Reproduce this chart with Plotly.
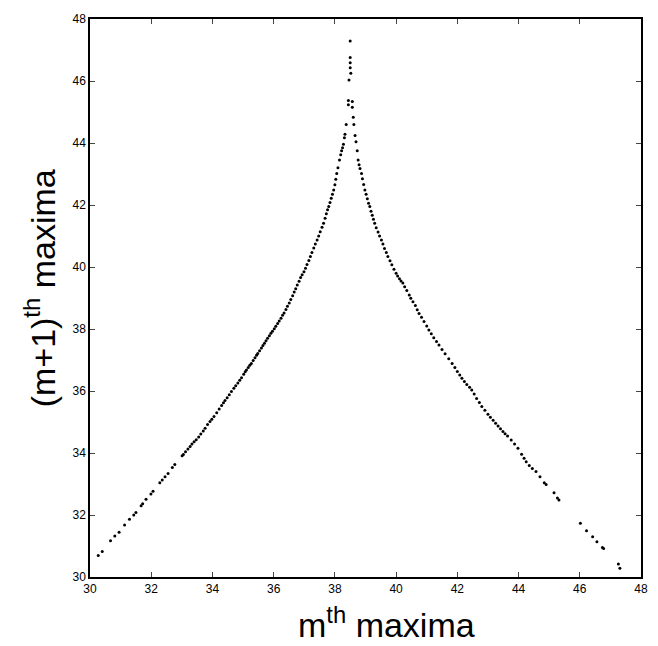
import plotly.graph_objects as go

# Left (rising) branch: (m-th maximum, (m+1)-th maximum)
left_x = [30.27, 30.40, 30.67, 30.81, 30.95, 31.13, 31.29, 31.43, 31.50, 31.67, 31.72, 31.83, 31.99, 32.06,
          32.28, 32.36, 32.45, 32.55, 32.69, 32.77, 33.01, 33.05, 33.12, 33.20, 33.27, 33.33, 33.40, 33.47,
          33.55, 33.62, 33.70, 33.76, 33.84, 33.92, 33.98, 34.05, 34.14, 34.22, 34.30, 34.36, 34.41, 34.48,
          34.55, 34.62, 34.70, 34.76, 34.83, 34.89, 34.95, 35.02, 35.07, 35.11, 35.17, 35.22, 35.27, 35.33,
          35.39, 35.44, 35.48, 35.54, 35.60, 35.65, 35.70, 35.75, 35.80, 35.86, 35.91, 35.96, 36.02, 36.07,
          36.13, 36.18, 36.24, 36.29, 36.34, 36.40, 36.45, 36.51, 36.56, 36.62, 36.67, 36.72, 36.77, 36.83,
          36.88, 36.93, 36.99, 37.04, 37.09, 37.15, 37.20, 37.25, 37.31, 37.36, 37.42, 37.47, 37.52, 37.58,
          37.63, 37.68, 37.72, 37.76, 37.80, 37.84, 37.88, 37.92, 37.96, 38.00, 38.03, 38.06, 38.10, 38.15,
          38.19, 38.22, 38.25, 38.28, 38.31, 38.33, 38.37]
left_y = [30.69, 30.82, 31.17, 31.32, 31.44, 31.68, 31.86, 32.00, 32.08, 32.30, 32.36, 32.51, 32.68, 32.77,
          33.04, 33.13, 33.23, 33.34, 33.53, 33.63, 33.91, 33.95, 34.04, 34.13, 34.21, 34.29, 34.36, 34.43,
          34.52, 34.61, 34.71, 34.80, 34.92, 35.02, 35.09, 35.18, 35.30, 35.42, 35.53, 35.62, 35.69, 35.78,
          35.88, 35.98, 36.09, 36.17, 36.26, 36.35, 36.43, 36.54, 36.62, 36.68, 36.76, 36.83, 36.89, 36.98,
          37.07, 37.15, 37.21, 37.30, 37.39, 37.47, 37.54, 37.62, 37.70, 37.78, 37.86, 37.93, 38.01, 38.09,
          38.18, 38.26, 38.35, 38.44, 38.52, 38.63, 38.73, 38.84, 38.95, 39.07, 39.19, 39.30, 39.42, 39.54,
          39.66, 39.75, 39.85, 39.96, 40.08, 40.21, 40.34, 40.47, 40.61, 40.74, 40.87, 41.00, 41.14, 41.28,
          41.41, 41.57, 41.72, 41.85, 41.95, 42.08, 42.22, 42.35, 42.48, 42.65, 42.83, 43.02, 43.20, 43.45,
          43.62, 43.75, 43.85, 43.96, 44.17, 44.28, 44.60]

# Points near the cusp
peak_x = [38.50, 38.50, 38.50, 38.50, 38.52, 38.46, 38.44, 38.57, 38.44, 38.57, 38.60, 38.62, 38.66]
peak_y = [47.29, 46.76, 46.59, 46.43, 46.25, 46.03, 45.37, 45.34, 45.23, 45.15, 44.83, 44.60, 44.24]

# Right (falling) branch
right_x = [38.69, 38.73, 38.76, 38.79, 38.82, 38.87, 38.90, 38.94, 38.98, 39.02, 39.06, 39.10, 39.14, 39.18,
           39.22, 39.26, 39.30, 39.35, 39.41, 39.46, 39.52, 39.57, 39.62, 39.68, 39.73, 39.80, 39.86, 39.93,
           40.00, 40.05, 40.11, 40.16, 40.22, 40.28, 40.35, 40.43, 40.48, 40.55, 40.63, 40.69, 40.75, 40.83,
           40.91, 41.00, 41.07, 41.15, 41.23, 41.32, 41.40, 41.50, 41.60, 41.72, 41.83, 41.92, 42.00, 42.08,
           42.15, 42.23, 42.31, 42.40, 42.47, 42.55, 42.63, 42.72, 42.80, 42.90, 43.00, 43.08, 43.17, 43.25,
           43.33, 43.41, 43.49, 43.56, 43.64, 43.76, 43.87, 43.98, 44.10, 44.18, 44.25, 44.35, 44.45, 44.57,
           44.70, 44.84, 44.90, 45.16, 45.27, 45.32, 46.02, 46.22, 46.42, 46.56, 46.74, 46.78, 47.26, 47.31]
right_y = [44.04, 43.75, 43.45, 43.30, 43.18, 43.02, 42.85, 42.66, 42.48, 42.35, 42.20, 42.06, 41.95, 41.80,
           41.67, 41.54, 41.41, 41.27, 41.13, 41.00, 40.87, 40.74, 40.60, 40.47, 40.34, 40.20, 40.07, 39.93,
           39.80, 39.71, 39.62, 39.55, 39.48, 39.36, 39.24, 39.10, 38.99, 38.88, 38.76, 38.62, 38.50, 38.38,
           38.24, 38.10, 37.97, 37.85, 37.72, 37.60, 37.48, 37.34, 37.20, 37.04, 36.89, 36.76, 36.63, 36.52,
           36.41, 36.31, 36.21, 36.12, 36.03, 35.90, 35.76, 35.63, 35.50, 35.38, 35.25, 35.15, 35.06, 34.96,
           34.87, 34.78, 34.69, 34.62, 34.55, 34.42, 34.29, 34.15, 33.96, 33.83, 33.72, 33.60, 33.50, 33.40,
           33.23, 33.04, 32.98, 32.72, 32.55, 32.48, 31.73, 31.49, 31.30, 31.14, 30.95, 30.92, 30.42, 30.28]

tick_vals = [30, 32, 34, 36, 38, 40, 42, 44, 46, 48]
tick_text = [str(v) for v in tick_vals]

xs = left_x + peak_x + right_x
ys = left_y + peak_y + right_y

fig = go.Figure()
fig.add_trace(go.Scatter(x=xs, y=ys, mode="markers",
                         marker=dict(size=3, color="black", line=dict(width=0)),
                         showlegend=False, hoverinfo="skip"))

axis_common = dict(
    range=[30, 48], tickmode="array", tickvals=tick_vals, ticktext=tick_text,
    ticks="inside", ticklen=5, tickwidth=1, tickcolor="#444",
    showline=True, linecolor="black", linewidth=1.5, mirror="ticks",
    showgrid=False, zeroline=False,
    tickfont=dict(family="Liberation Sans, Arial, sans-serif", size=12, color="black"),
)

fig.update_layout(
    width=658, height=646,
    margin=dict(l=90, r=10, t=19, b=69),
    paper_bgcolor="white", plot_bgcolor="white",
    font=dict(family="Liberation Sans, Arial, sans-serif", color="black"),
    xaxis=axis_common,
    yaxis=axis_common,
    annotations=[
        dict(text="m<sup>th</sup> maxima", xref="paper", yref="paper",
             x=0.373, y=-0.039, xanchor="left", yanchor="top", showarrow=False,
             font=dict(size=34, family="Liberation Sans, Arial, sans-serif", color="black")),
        dict(text="(m+1)<sup>th</sup> maxima", xref="paper", yref="paper",
             x=-0.09, y=0.518, xanchor="center", yanchor="middle", textangle=-90, showarrow=False,
             font=dict(size=34, family="Liberation Sans, Arial, sans-serif", color="black")),
    ],
)

fig.write_html("out.html")
